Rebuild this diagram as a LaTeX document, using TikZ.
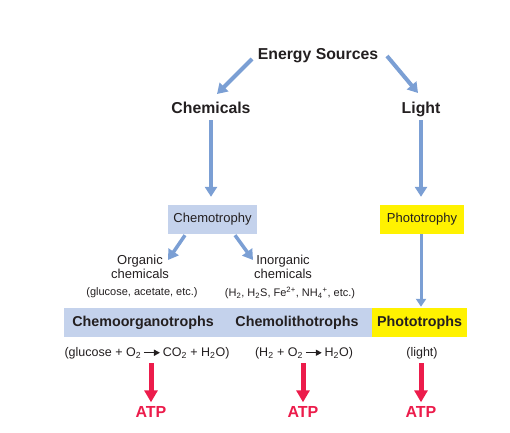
\documentclass[tikz,border=0pt]{standalone}
\usepackage{fontspec}
\setmainfont{Liberation Sans}
\usetikzlibrary{arrows.meta}
\definecolor{arrowblue}{HTML}{7B9FD4}
\definecolor{boxblue}{HTML}{C4D2EC}
\definecolor{boxyellow}{HTML}{FFF200}
\definecolor{atpred}{HTML}{EC1C4B}
\definecolor{ink}{HTML}{231F20}
\newcommand{\yields}{\tikz[baseline=-3.5pt]\draw[arrowinline] (0pt,0pt) -- (16pt,0pt);}
\tikzset{
  arrowinline/.style={ink, line width=1.5pt, -{Triangle[length=6pt,width=6pt]}},
  bigarrow/.style={arrowblue, line width=4pt, -{Triangle[length=10pt,width=12pt]}},
  thinarrow/.style={arrowblue, line width=3pt, -{Triangle[length=8pt,width=10pt]}},
  atparrow/.style={atpred, line width=5pt, -{Triangle[length=12pt,width=13pt]}},
  head/.style={font=\fontsize{15.8}{18}\selectfont\bfseries, text=ink, inner sep=1pt, anchor=base},
  plain/.style={font=\fontsize{13}{14}\selectfont, text=ink, inner sep=1pt, align=center},
  small/.style={font=\fontsize{11}{13}\selectfont, text=ink, inner sep=1pt},
  bar/.style={font=\fontsize{14.3}{16}\selectfont\bfseries, text=ink, inner sep=0pt, minimum height=29pt},
  eqn/.style={font=\fontsize{12.5}{14}\selectfont, text=ink, inner sep=1pt},
  atp/.style={font=\fontsize{16}{18}\selectfont\bfseries, text=atpred, inner sep=1pt},
}
\begin{document}
\begin{tikzpicture}[x=1pt, y=-1pt]
  \useasboundingbox (0,0) rectangle (510,432);
  % sources
  \node[head] (energy) at (318,59) {Energy Sources};
  \node[head] (chem) at (211,113) {Chemicals};
  \node[head] (light) at (421,113) {Light};
  % trophy boxes
  \node[plain, fill=boxblue, minimum width=89pt, minimum height=29pt] (chemotrophy) at (212.5,219.5) {Chemotrophy};
  \node[plain, fill=boxyellow, minimum width=84pt, minimum height=29pt] (phototrophy) at (422,219.5) {Phototrophy};
  % chemical kinds
  \node[plain] (organic) at (140,267) {Organic\\chemicals};
  \node[plain] (inorganic) at (283,267) {Inorganic\\chemicals};
  \node[small] (orgex) at (142,293) {(glucose, acetate, etc.)};
  \node[small] (inorgex) at (290,293) {(H\textsubscript{2}, H\textsubscript{2}S, Fe\textsuperscript{2+}, NH\textsubscript{4}\textsuperscript{+}, etc.)};
  % bottom bar
  \node[bar, fill=boxblue, minimum width=158pt] (chemoorg) at (143,322.5) {Chemoorganotrophs};
  \node[bar, fill=boxblue, minimum width=150pt] (chemolitho) at (297,322.5) {Chemolithotrophs};
  \node[bar, fill=boxyellow, minimum width=95pt] (phototrophs) at (419.5,322.5) {Phototrophs};
  % reactions
  \node[eqn] (eqorg) at (147,353) {(glucose + O\textsubscript{2}\,\yields\,CO\textsubscript{2} + H\textsubscript{2}O)};
  \node[eqn] (eqlitho) at (304,353) {(H\textsubscript{2} + O\textsubscript{2}\,\yields\,H\textsubscript{2}O)};
  \node[eqn] (eqlight) at (422,353) {(light)};
  % ATP
  \node[atp] (atporg) at (151,412) {ATP};
  \node[atp] (atplitho) at (303,412) {ATP};
  \node[atp] (atplight) at (421,412) {ATP};
  % arrows
  \draw[bigarrow] ([shift={(-66,0)}]energy.base) -- ([shift={(6,-19)}]chem.base);
  \draw[bigarrow] ([shift={(69,-3)}]energy.base) -- ([shift={(-3,-20)}]light.base);
  \draw[bigarrow] (chem.base |- 0,120) -- ([yshift=8pt]chem.base |- chemotrophy.north);
  \draw[bigarrow] (light.base |- 0,120) -- ([yshift=8pt]light.base |- phototrophy.north);
  \draw[bigarrow, line width=3.5pt] ([shift={(-27.5,1)}]chemotrophy.south) -- ([shift={(28,-7)}]organic.center);
  \draw[bigarrow, line width=3.5pt] ([shift={(22.5,1)}]chemotrophy.south) -- ([shift={(-30,-7)}]inorganic.center);
  \draw[thinarrow] (atplight |- phototrophy.south) -- ([yshift=1pt]atplight |- phototrophs.north);
  \draw[atparrow] ([yshift=-3pt]atporg |- eqorg.south) -- ([yshift=3pt]atporg.north);
  \draw[atparrow] ([yshift=-3pt]atplitho |- eqlitho.south) -- ([yshift=3pt]atplitho.north);
  \draw[atparrow] ([yshift=-3pt]atplight |- eqlight.south) -- ([yshift=3pt]atplight.north);
\end{tikzpicture}
\end{document}
